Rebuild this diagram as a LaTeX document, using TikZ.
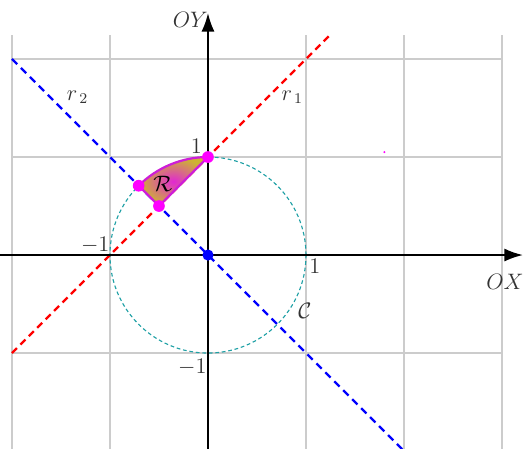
\documentclass[tikz,border=0pt]{standalone}
\usetikzlibrary{arrows.meta}
\definecolor{regout}{RGB}{205,180,50}
\definecolor{regin}{RGB}{225,40,210}
\definecolor{regline}{RGB}{205,30,215}
\definecolor{dotmag}{RGB}{255,0,255}
\definecolor{circcol}{RGB}{30,160,165}
\begin{document}
\begin{tikzpicture}[x=1.85cm,y=1.85cm,
  font=\fontsize{12}{14}\selectfont,
  gridline/.style={gray!40,line width=0.8pt},
  axis/.style={black,line width=1.1pt,-{Latex[length=10pt,width=7pt]}},
  rone/.style={red,line width=1.2pt,dash pattern=on 3.8pt off 2.6pt},
  rtwo/.style={blue,line width=1.2pt,dash pattern=on 4pt off 2.8pt},
  circ/.style={circcol,line width=0.6pt,dash pattern=on 2pt off 1.5pt},
  pt/.style={circle,fill=dotmag,inner sep=0pt,minimum size=6.3pt},
  lab/.style={text=black!80,inner sep=1pt}]
\useasboundingbox (-2.122,-1.969) rectangle (3.214,2.602);
\begin{scope}
\clip (-2.122,-1.969) rectangle (3.214,2.602);
\draw[gridline,step={(1,1)}] (-2,-2) grid (3,2.25);
% circle
\coordinate (O) at (0,0);
\draw[circ] (O) circle[radius=1];
% lines
\coordinate (r1a) at (-2,-1);
\coordinate (r1b) at (1.25,2.25);
\coordinate (r2a) at (-2,2);
\coordinate (r2b) at (2,-2);
\draw[rone] (r1a) -- (r1b);
\draw[rtwo] (r2a) -- (r2b);
% region
\coordinate (A) at (0,1);
\coordinate (B) at (135:1);
\coordinate (P) at (-0.5,0.5);
\shade[inner color=regin,outer color=regout,draw=regline,line width=1.2pt]
  (A) arc[start angle=90,end angle=135,radius=1] -- (P) -- cycle;
% axes
\coordinate (xl) at (-2.13,0);
\coordinate (xr) at (3.214,0);
\coordinate (yb) at (0,-1.98);
\coordinate (yt) at (0,2.47);
\draw[axis] (xl) -- (xr);
\draw[axis] (yb) -- (yt);
\end{scope}
% points
\node[pt] (pA) at (A) {};
\node[pt] (pB) at (B) {};
\node[pt] (pP) at (P) {};
\node[circle,fill=blue,inner sep=0pt,minimum size=6pt] (pO) at (O) {};
\fill[dotmag] (1.8,1.05) circle[radius=0.6pt];
% labels
\node[lab] (l1) at (-0.12,1.11) {$1$};
\node[lab] (lm1x) at (-1.15,0.10) {$-1$};
\node[lab] (l1x) at (1.09,-0.12) {$1$};
\node[lab] (lm1y) at (-0.16,-1.14) {$-1$};
\node[lab] (OX) at (3.03,-0.27) {$OX$};
\node[lab] (OY) at (-0.18,2.40) {$OY$};
\node[lab] (r2) at (-1.33,1.61) {$r_{\,2}$};
\node[lab] (r1) at (0.86,1.61) {$r_{\,1}$};
\node[lab] (C) at (0.99,-0.57) {$\mathcal{C}$};
\node[lab,text=black] (R) at (-0.46,0.73) {$\mathcal{R}$};
\end{tikzpicture}
\end{document}
